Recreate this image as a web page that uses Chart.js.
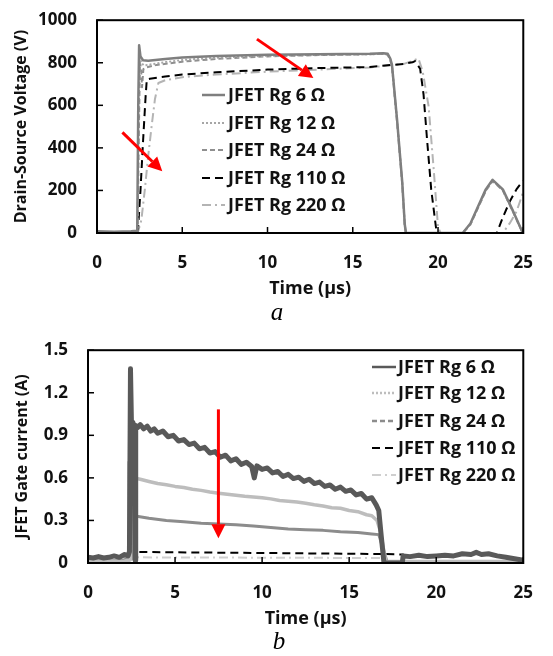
<!DOCTYPE html>
<html>
<head>
<meta charset="utf-8">
<script src="https://cdn.jsdelivr.net/npm/chart.js@4.4.1/dist/chart.umd.min.js"></script>
<style>
  html, body { margin: 0; padding: 0; background: #fff; }
  body { width: 553px; height: 656px; position: relative; overflow: hidden; }
  .box { position: absolute; left: 0; width: 553px; }
  #boxA { top: -10px; height: 320px; }
  #boxB { top: 320px; height: 316px; }
  .cap { position: absolute; font-family: 'Liberation Serif', 'DejaVu Serif', serif; font-style: italic; font-size: 25px; color: #000; transform: translate(-50%, -50%); }
</style>
</head>
<body>
<div id="boxA" class="box"><canvas id="chartA"></canvas></div>
<div id="boxB" class="box"><canvas id="chartB"></canvas></div>
<div class="cap" style="left:277px; top:312px;">a</div>
<div class="cap" style="left:279px; top:641px;">b</div>
<script>
// Axis ticks and series names
const timeTicks = [0, 5, 10, 15, 20, 25];
const vdsTicks = [0, 200, 400, 600, 800, 1000];
const igTicks = [0, 0.3, 0.6, 0.9, 1.2, 1.5];
const seriesNames = ['JFET Rg 6 Ω', 'JFET Rg 12 Ω', 'JFET Rg 24 Ω', 'JFET Rg 110 Ω', 'JFET Rg 220 Ω'];

// (a) Drain-source voltage, V  (time in µs)
const vdsT6 = [0, 1, 2, 2.36, 2.42, 2.47, 2.55, 2.7, 3.0, 4, 5, 7, 10, 13, 16, 16.8, 17.05, 17.2, 17.3, 17.6, 17.9, 18.05, 18.12, 20, 21.45, 21.9, 22.3, 22.8, 23.2, 23.8, 24.4, 24.9, 25];
const vdsV6 = [8, 6, 8, 10, 600, 882, 830, 812, 810, 818, 825, 832, 838, 840, 842, 845, 842, 820, 790, 530, 240, 40, 0, 0, 0, 45, 116, 205, 250, 205, 103, 13, 0];
const vdsT12 = [0, 1, 2, 2.38, 2.44, 2.5, 2.58, 2.75, 3.0, 4, 5, 7, 10, 13, 16, 16.8, 17.05, 17.2, 17.3, 17.6, 17.9, 18.05, 18.12, 20, 21.45, 21.9, 22.3, 22.8, 23.2, 23.8, 24.4, 24.9, 25];
const vdsV12 = [5, 5, 5, 8, 500, 850, 800, 788, 790, 803, 813, 824, 833, 837, 840, 842, 838, 815, 785, 525, 235, 35, 0, 0, 0, 42, 112, 200, 246, 202, 100, 12, 0];
const vdsT24 = [0, 1, 2, 2.38, 2.45, 2.52, 2.58, 2.64, 2.72, 2.9, 3.5, 5, 7, 10, 13, 16, 16.8, 17.05, 17.2, 17.3, 17.6, 17.9, 18.05, 18.12, 20, 21.45, 21.9, 22.3, 22.8, 23.2, 23.8, 24.4, 24.9, 25];
const vdsV24 = [5, 5, 5, 8, 450, 800, 775, 685, 770, 778, 790, 805, 818, 830, 836, 840, 843, 838, 812, 782, 520, 232, 32, 0, 0, 0, 40, 110, 198, 244, 200, 98, 12, 0];
const vdsT110 = [0, 1, 2, 2.4, 2.55, 2.7, 2.85, 2.92, 3.1, 4, 5, 7, 10, 13, 16, 18, 18.5, 18.65, 18.95, 19.15, 19.35, 19.6, 19.9, 20.05, 23.45, 23.8, 24.2, 24.6, 24.9, 25];
const vdsV110 = [3, 3, 3, 10, 200, 430, 640, 722, 725, 735, 745, 755, 768, 775, 780, 795, 802, 808, 772, 652, 446, 205, 13, 0, 0, 73, 147, 205, 237, 245];
const vdsT220 = [0, 1, 2, 2.4, 2.6, 2.8, 3.0, 3.2, 3.4, 3.6, 4, 5, 7, 10, 13, 16, 18, 18.6, 18.85, 19.1, 19.45, 19.75, 20.0, 20.15, 23.8, 24.2, 24.6, 24.9, 25];
const vdsV220 = [2, 2, 2, 4, 60, 200, 360, 500, 630, 705, 718, 732, 745, 758, 768, 778, 795, 812, 820, 760, 594, 295, 27, 0, 0, 45, 100, 170, 200];

// (b) JFET gate current, A
const igT6 = [0, 0.3, 0.6, 0.9, 1.2, 1.5, 1.8, 2.1, 2.3, 2.38, 2.44, 2.5, 2.58, 2.66, 2.7, 2.74, 2.85, 3.0, 3.2, 3.4, 3.6, 3.8, 4.0, 4.3, 4.6, 4.9, 5.2, 5.5, 5.8, 6.1, 6.4, 6.7, 7.0, 7.3, 7.6, 7.9, 8.2, 8.5, 8.8, 9.1, 9.4, 9.55, 9.7, 10.0, 10.3, 10.6, 10.9, 11.2, 11.5, 11.8, 12.1, 12.4, 12.7, 13.0, 13.3, 13.6, 13.9, 14.2, 14.5, 14.8, 15.1, 15.4, 15.7, 16.0, 16.3, 16.55, 16.7, 16.85, 17.0, 18.05, 18.1, 18.5, 19.0, 19.5, 20.0, 20.5, 21.0, 21.5, 22.0, 22.3, 22.6, 23.0, 23.5, 24.0, 24.5, 25];
const igV6 = [0.04, 0.035, 0.045, 0.035, 0.04, 0.05, 0.04, 0.06, 0.05, 0.08, 1.37, 0.95, 0.99, 0.96, 0.02, 0.97, 0.955, 0.975, 0.945, 0.965, 0.93, 0.945, 0.915, 0.93, 0.89, 0.9, 0.86, 0.87, 0.835, 0.845, 0.805, 0.815, 0.775, 0.785, 0.745, 0.76, 0.72, 0.735, 0.695, 0.71, 0.68, 0.6, 0.685, 0.66, 0.67, 0.635, 0.645, 0.61, 0.625, 0.595, 0.605, 0.575, 0.59, 0.56, 0.57, 0.54, 0.55, 0.52, 0.535, 0.505, 0.515, 0.48, 0.49, 0.45, 0.46, 0.41, 0.37, 0.18, 0.0, 0.0, 0.05, 0.045, 0.055, 0.045, 0.05, 0.055, 0.05, 0.065, 0.06, 0.075, 0.06, 0.065, 0.05, 0.04, 0.03, 0.02];
const igT12 = [0, 1, 2, 2.3, 2.35, 2.4, 2.5, 2.55, 2.62, 3.0, 3.5, 4.0, 4.5, 5.0, 5.5, 6.0, 6.5, 7.0, 7.5, 8.0, 8.5, 9.0, 9.5, 10.0, 10.5, 11.0, 11.5, 12.0, 12.5, 13.0, 13.5, 14.0, 14.5, 15.0, 15.5, 16.0, 16.3, 16.6, 16.8, 17.1, 18.1, 25];
const igV12 = [0.01, 0.015, 0.01, 0.02, 0.71, 0.02, 0.03, 0.82, 0.6, 0.59, 0.575, 0.56, 0.552, 0.54, 0.532, 0.52, 0.512, 0.5, 0.492, 0.485, 0.478, 0.47, 0.466, 0.46, 0.452, 0.44, 0.436, 0.43, 0.421, 0.41, 0.402, 0.39, 0.386, 0.37, 0.362, 0.34, 0.333, 0.3, 0.22, 0.01, 0.01, 0.01];
const igT24 = [0, 1, 2, 2.3, 2.4, 2.45, 2.55, 2.8, 3.5, 4.5, 5.5, 6.5, 7.5, 8.5, 9.5, 10.5, 11.5, 12.5, 13.5, 14.5, 15.5, 16.3, 16.7, 16.9, 17.2, 18.1, 25];
const igV24 = [0.02, 0.02, 0.02, 0.03, 0.1, 0.37, 0.34, 0.33, 0.315, 0.3, 0.29, 0.28, 0.275, 0.27, 0.26, 0.25, 0.24, 0.235, 0.23, 0.22, 0.215, 0.205, 0.2, 0.12, 0.0, 0.01, 0.01];
const igT110 = [0, 2.3, 2.4, 2.5, 7.5, 12.5, 17.0, 18.1, 18.2, 25];
const igV110 = [0.005, 0.005, 0.1, 0.078, 0.073, 0.068, 0.063, 0.06, 0.008, 0.005];
const igT220 = [0, 2.3, 2.5, 17.0, 17.2, 25];
const igV220 = [0.01, 0.01, 0.04, 0.035, 0.01, 0.008];

// Red arrows [x0, y0, x1, y1] in data units
const arrowsVds = [[1.49, 473, 3.83, 290], [9.38, 911, 12.69, 728]];
const arrowsIg = [[7.49, 1.083, 7.49, 0.175]];

const stylesVds = [
    {color: '#7f7f7f', width: 2.5, dash: []},
    {color: '#a6a6a6', width: 2, dash: [2, 2]},
    {color: '#8f8f8f', width: 2, dash: [5, 3]},
    {color: '#000000', width: 2, dash: [8, 5]},
    {color: '#b4b4b4', width: 2, dash: [9, 4, 2, 4]}
];
const stylesIg = [
    {color: '#595959', width: 5, dash: []},
    {color: '#bdbdbd', width: 3.5, dash: [], legendDash: [2, 2]},
    {color: '#8c8c8c', width: 3, dash: [], legendDash: [5, 3]},
    {color: '#000000', width: 2, dash: [8, 5]},
    {color: '#cfcfcf', width: 2, dash: [9, 4, 2, 4]}
];

const FONT = "'Open Sans', sans-serif";

function toPoints(t, v) {
    return t.map((x, i) => ({x: x, y: v[i]}));
}

function makeDatasets(series, styles) {
    return series.map((s, i) => ({
        label: seriesNames[i],
        data: toPoints(s[0], s[1]),
        borderColor: styles[i].color,
        borderWidth: styles[i].width,
        borderDash: styles[i].dash,
        borderJoinStyle: 'round',
        legendDash: styles[i].legendDash,
        pointRadius: 0,
        tension: 0,
        fill: false
    }));
}

function drawArrow(ctx, x0, y0, x1, y1) {
    const ang = Math.atan2(y1 - y0, x1 - x0);
    const head = 14, half = 7;
    const bx = x1 - head * Math.cos(ang), by = y1 - head * Math.sin(ang);
    ctx.strokeStyle = '#ff0000';
    ctx.fillStyle = '#ff0000';
    ctx.lineWidth = 3;
    ctx.setLineDash([]);
    ctx.beginPath();
    ctx.moveTo(x0, y0);
    ctx.lineTo(bx, by);
    ctx.stroke();
    ctx.beginPath();
    ctx.moveTo(x1, y1);
    ctx.lineTo(bx + half * Math.sin(ang), by - half * Math.cos(ang));
    ctx.lineTo(bx - half * Math.sin(ang), by + half * Math.cos(ang));
    ctx.closePath();
    ctx.fill();
}

// frame, inward ticks, arrows and legend
const decor = {
    id: 'decor',
    afterDatasetsDraw(chart, args, opts) {
        const ctx = chart.ctx, a = chart.chartArea;
        const xs = chart.scales.x, ys = chart.scales.y;
        ctx.save();
        ctx.strokeStyle = '#000';
        ctx.lineWidth = 1.5;
        ctx.setLineDash([]);
        xs.ticks.forEach(t => {
            const px = xs.getPixelForValue(t.value);
            ctx.beginPath(); ctx.moveTo(px, a.bottom); ctx.lineTo(px, a.bottom - 6); ctx.stroke();
        });
        ys.ticks.forEach(t => {
            const py = ys.getPixelForValue(t.value);
            ctx.beginPath(); ctx.moveTo(a.left, py); ctx.lineTo(a.left + 6, py); ctx.stroke();
        });
        ctx.lineWidth = 2;
        ctx.strokeRect(a.left, a.top, a.right - a.left, a.bottom - a.top);

        opts.arrows.forEach(ar => {
            drawArrow(ctx, xs.getPixelForValue(ar[0]), ys.getPixelForValue(ar[1]),
                xs.getPixelForValue(ar[2]), ys.getPixelForValue(ar[3]));
        });

        const lg = opts.legend;
        ctx.font = 'bold 18px ' + FONT;
        ctx.textBaseline = 'middle';
        ctx.textAlign = 'left';
        chart.data.datasets.forEach((ds, i) => {
            const y = lg.rows[i];
            ctx.strokeStyle = ds.borderColor;
            ctx.lineWidth = Math.min(ds.borderWidth, 2.5);
            ctx.setLineDash(ds.legendDash || ds.borderDash || []);
            ctx.beginPath(); ctx.moveTo(lg.x0, y); ctx.lineTo(lg.x1, y); ctx.stroke();
            ctx.fillStyle = '#111';
            ctx.fillText(ds.label, lg.tx, y + 1);
        });
        ctx.restore();
    }
};

function buildChart(id, cfg) {
    const ctx = document.getElementById(id).getContext('2d');
    return new Chart(ctx, {
        type: 'line',
        data: {datasets: makeDatasets(cfg.series, cfg.styles)},
        options: {
            animation: false,
            responsive: true,
            maintainAspectRatio: false,
            devicePixelRatio: 1,
            events: [],
            layout: {padding: cfg.padding},
            plugins: {
                legend: {display: false},
                tooltip: {enabled: false},
                decor: {arrows: cfg.arrows, legend: cfg.legend}
            },
            scales: {
                x: {
                    type: 'linear',
                    min: 0,
                    max: 25,
                    afterBuildTicks: s => { s.ticks = timeTicks.map(v => ({value: v})); },
                    afterFit: s => { s.height = cfg.xHeight; },
                    grid: {display: false, drawTicks: false},
                    border: {display: false},
                    ticks: {padding: cfg.xTickPad, color: '#111', font: {family: FONT, weight: 'bold', size: 17}},
                    title: {display: true, text: 'Time (µs)', color: '#111',
                        font: {family: FONT, weight: 'bold', size: 18}, padding: {top: 0, bottom: cfg.xTitlePad}}
                },
                y: {
                    min: cfg.yTicks[0],
                    max: cfg.yTicks[cfg.yTicks.length - 1],
                    afterBuildTicks: s => { s.ticks = cfg.yTicks.map(v => ({value: v})); },
                    afterFit: s => { s.width = cfg.yWidth; },
                    grid: {display: false, drawTicks: false},
                    border: {display: false},
                    ticks: {padding: 20, color: '#111', font: {family: FONT, weight: 'bold', size: 17},
                        callback: cfg.yFormat},
                    title: {display: true, text: cfg.yTitle, color: '#111',
                        font: {family: FONT, weight: 'bold', size: 16}, padding: {top: cfg.yTitlePad, bottom: 0}}
                }
            }
        },
        plugins: [decor]
    });
}

buildChart('chartA', {
    series: [[vdsT6, vdsV6], [vdsT12, vdsV12], [vdsT24, vdsV24], [vdsT110, vdsV110], [vdsT220, vdsV220]],
    styles: stylesVds,
    arrows: arrowsVds,
    legend: {x0: 202, x1: 225, tx: 228, rows: [105, 133, 160, 188, 215]},
    padding: {top: 19, right: 19, left: 0, bottom: 0},
    xHeight: 77,
    xTickPad: 20,
    xTitlePad: 10,
    yWidth: 97,
    yTicks: vdsTicks,
    yFormat: v => String(v),
    yTitle: 'Drain-Source Voltage (V)',
    yTitlePad: 12
});

buildChart('chartB', {
    series: [[igT6, igV6], [igT12, igV12], [igT24, igV24], [igT110, igV110], [igT220, igV220]],
    styles: stylesIg,
    arrows: arrowsIg,
    legend: {x0: 372, x1: 396, tx: 398, rows: [47, 73, 101, 128, 155]},
    padding: {top: 20, right: 18, left: 0, bottom: 0},
    xHeight: 73,
    xTickPad: 20,
    xTitlePad: 6,
    yWidth: 88,
    yTicks: igTicks,
    yFormat: v => (v === 0 ? '0' : v.toFixed(1)),
    yTitle: 'JFET Gate current (A)',
    yTitlePad: 13
});
</script>
</body>
</html>
